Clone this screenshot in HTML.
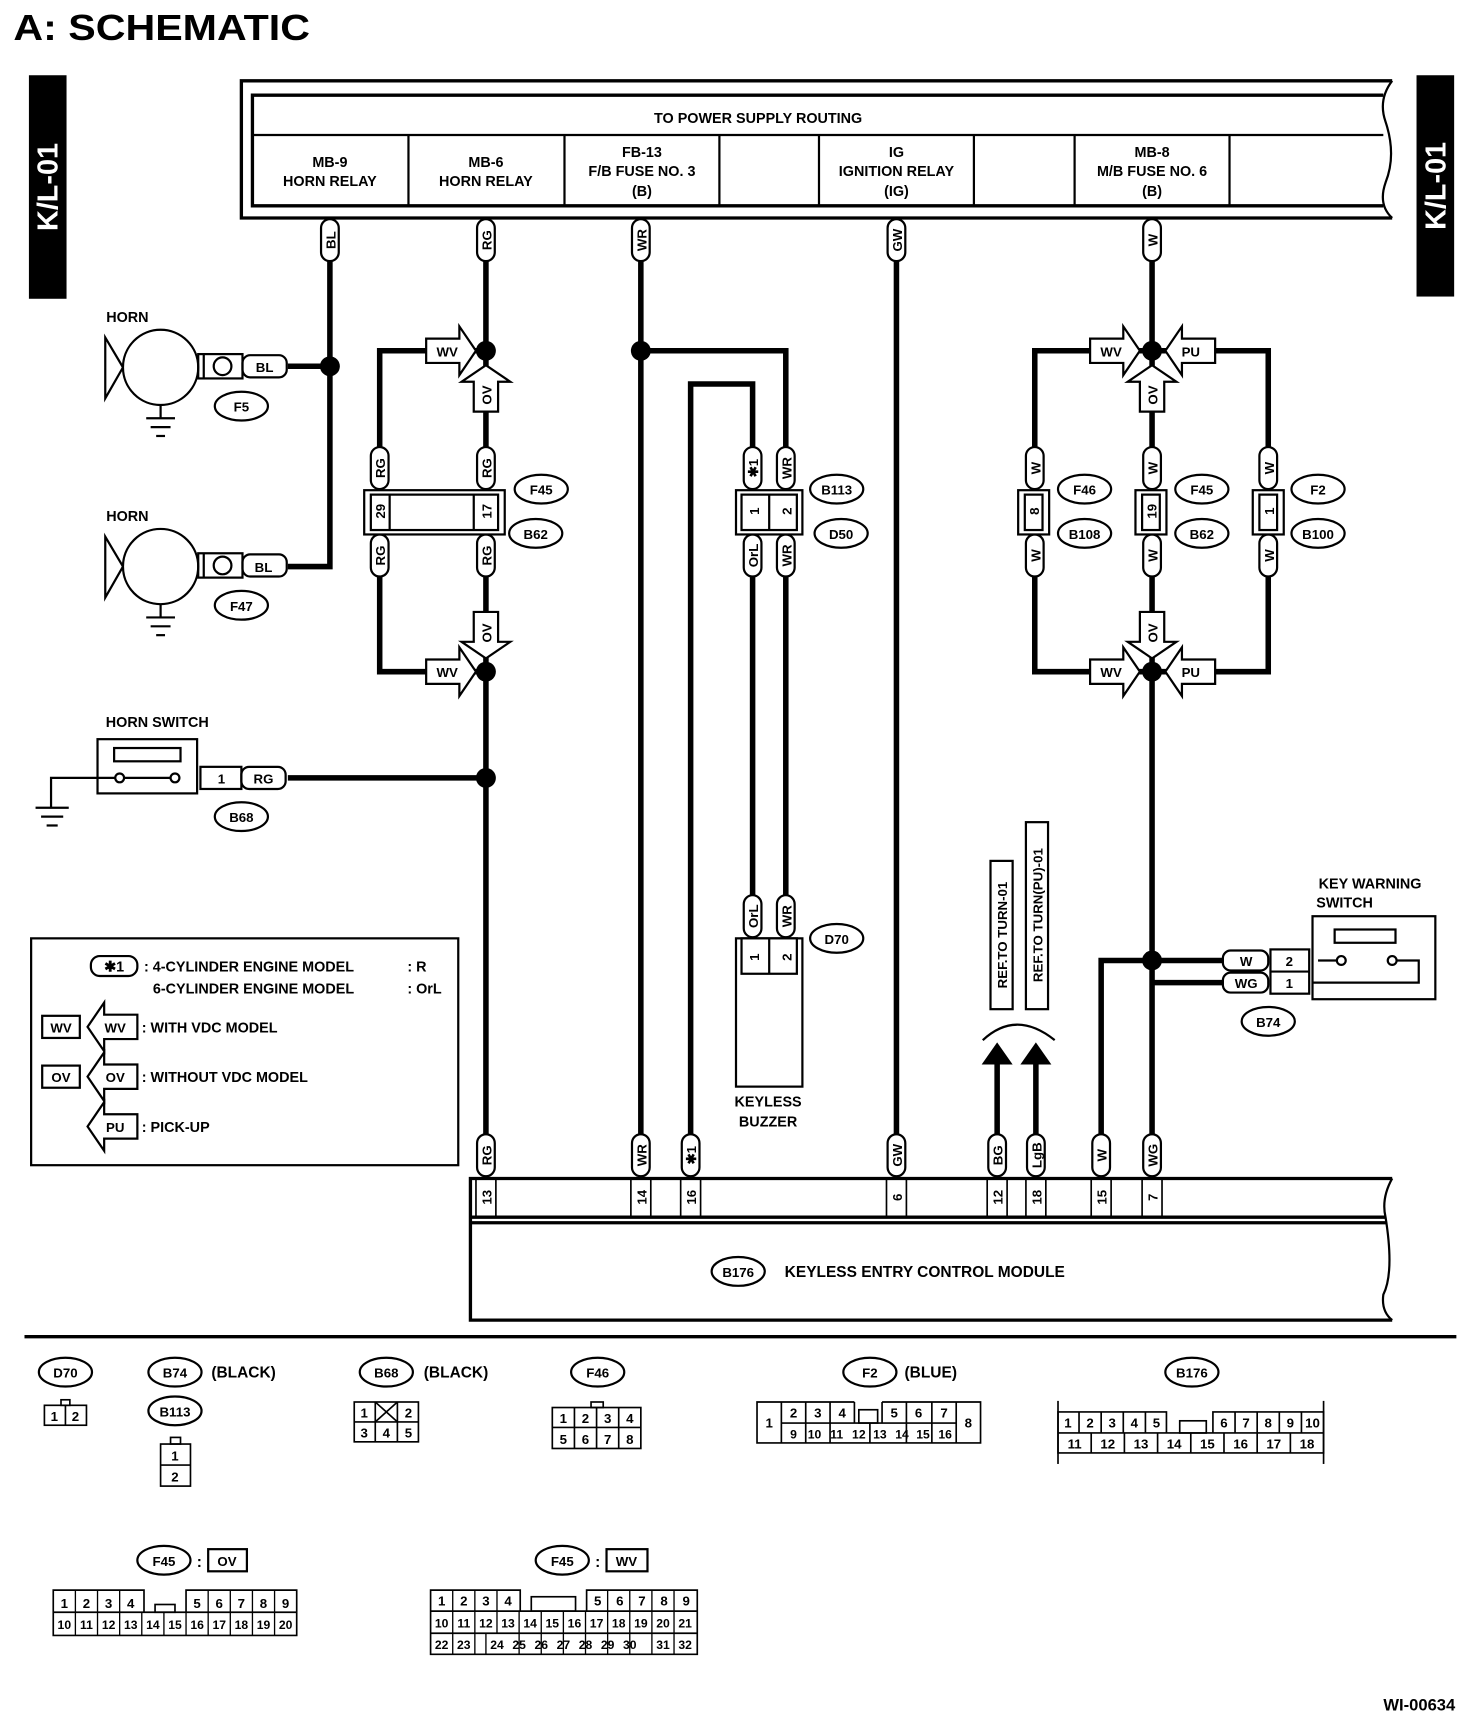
<!DOCTYPE html>
<html><head><meta charset="utf-8"><style>
html,body{margin:0;padding:0;background:#fff}
svg{display:block}
text{font-family:"Liberation Sans",sans-serif;font-weight:bold;fill:#000}
</style></head><body>
<svg width="1472" height="1724" viewBox="0 0 1330 1558" xmlns="http://www.w3.org/2000/svg">
<defs>
<g id="pill"><rect x="-8" y="-19" width="16" height="38" rx="8" fill="#fff" stroke="#000" stroke-width="2"/></g>
<g id="arR"><path d="M-45,-11 H-15 V-22 L0,0 L-15,22 V11 H-45 Z" fill="#fff" stroke="#000" stroke-width="2"/></g>
<g id="arL"><path d="M45,-11 H15 V-22 L0,0 L15,22 V11 H45 Z" fill="#fff" stroke="#000" stroke-width="2"/></g>
<g id="arU"><path d="M-11,42 V15 H-22 L0,0 L22,15 H11 V42 Z" fill="#fff" stroke="#000" stroke-width="2"/></g>
<g id="arD"><path d="M-11,-42 V-15 H-22 L0,0 L22,-15 H11 V-42 Z" fill="#fff" stroke="#000" stroke-width="2"/></g>
<g id="ov"><ellipse rx="24" ry="13" fill="#fff" stroke="#000" stroke-width="2"/></g>
</defs>

<text x="12" y="36" font-size="33" textLength="268" lengthAdjust="spacingAndGlyphs">A:  SCHEMATIC</text>

<rect x="26" y="68" width="34" height="202" fill="#000"/>
<text transform="translate(52,169) rotate(-90)" font-size="26" text-anchor="middle" style="fill:#fff">K/L-01</text>
<rect x="1280" y="68" width="34" height="200" fill="#000"/>
<text transform="translate(1306,168) rotate(-90)" font-size="26" text-anchor="middle" style="fill:#fff">K/L-01</text>

<!-- top box -->
<g fill="none" stroke="#000" stroke-width="3">
<path d="M1258,73 H218 V197 H1258"/>
<path d="M1250,86 H228 V186 H1250"/>
<path d="M1258,73 Q1245,90 1252,110 Q1262,140 1252,165 Q1245,185 1258,197" stroke-width="2"/>
</g>
<g stroke="#000" stroke-width="2">
<line x1="228" y1="122" x2="1250" y2="122"/>
<line x1="369" y1="122" x2="369" y2="186"/><line x1="510" y1="122" x2="510" y2="186"/>
<line x1="650" y1="122" x2="650" y2="186"/><line x1="740" y1="122" x2="740" y2="186"/>
<line x1="880" y1="122" x2="880" y2="186"/><line x1="971" y1="122" x2="971" y2="186"/>
<line x1="1111" y1="122" x2="1111" y2="186"/>
</g>
<g font-size="13" text-anchor="middle">
<text x="685" y="111">TO POWER SUPPLY ROUTING</text>
<text x="298" y="151">MB-9</text><text x="298" y="168">HORN RELAY</text>
<text x="439" y="151">MB-6</text><text x="439" y="168">HORN RELAY</text>
<text x="580" y="142">FB-13</text><text x="580" y="159">F/B FUSE NO. 3</text><text x="580" y="177">(B)</text>
<text x="810" y="142">IG</text><text x="810" y="159">IGNITION RELAY</text><text x="810" y="177">(IG)</text>
<text x="1041" y="142">MB-8</text><text x="1041" y="159">M/B FUSE NO. 6</text><text x="1041" y="177">(B)</text>
</g>

<!-- wires -->
<g fill="none" stroke="#000" stroke-width="5">
<path d="M298,236 V512 H260"/><path d="M298,331 H260"/>
<path d="M439,236 V1025"/>
<path d="M439,317 H343 V405"/><path d="M343,520 V607 H439"/>
<path d="M439,703 H260"/>
<path d="M579,236 V1025"/><path d="M579,317 H710 V405"/>
<path d="M624,1025 V347 H680 V405"/>
<path d="M680,520 V810"/><path d="M710,520 V810"/>
<path d="M810,236 V1025"/>
<path d="M1041,236 V1025"/>
<path d="M1041,317 H935 V405"/><path d="M935,520 V607 H1146 V520"/>
<path d="M1041,317 H1146 V405"/>
<path d="M1105,868 H995 V1025"/><path d="M1105,888 H1041"/>
<path d="M901,1025 V960"/><path d="M936,1025 V960"/>
</g>
<g fill="#000">
<circle cx="298" cy="331" r="9"/><circle cx="439" cy="317" r="9"/><circle cx="439" cy="607" r="9"/><circle cx="439" cy="703" r="9"/>
<circle cx="579" cy="317" r="9"/><circle cx="1041" cy="317" r="9"/><circle cx="1041" cy="607" r="9"/><circle cx="1041" cy="868" r="9"/>
<path d="M887,962 L901,942 L915,962 Z"/><path d="M922,962 L936,942 L950,962 Z"/>
</g>
<path d="M888,940 Q918,912 953,940" fill="none" stroke="#000" stroke-width="2"/>

<!-- arrows -->
<g font-size="12">
<use href="#arR" x="430" y="317"/><text x="404" y="322" text-anchor="middle">WV</text>
<use href="#arR" x="430" y="607"/><text x="404" y="612" text-anchor="middle">WV</text>
<use href="#arU" x="439" y="330"/><text transform="translate(444,357) rotate(-90)" text-anchor="middle">OV</text>
<use href="#arD" x="439" y="595"/><text transform="translate(444,572) rotate(-90)" text-anchor="middle">OV</text>
<use href="#arR" x="1030" y="317"/><text x="1004" y="322" text-anchor="middle">WV</text>
<use href="#arR" x="1030" y="607"/><text x="1004" y="612" text-anchor="middle">WV</text>
<use href="#arL" x="1053" y="317"/><text x="1076" y="322" text-anchor="middle">PU</text>
<use href="#arL" x="1053" y="607"/><text x="1076" y="612" text-anchor="middle">PU</text>
<use href="#arU" x="1041" y="330"/><text transform="translate(1046,357) rotate(-90)" text-anchor="middle">OV</text>
<use href="#arD" x="1041" y="595"/><text transform="translate(1046,572) rotate(-90)" text-anchor="middle">OV</text>
</g>

<!-- pills -->
<g font-size="12" text-anchor="middle">
<use href="#pill" x="298" y="217"/><text transform="translate(303,217) rotate(-90)">BL</text>
<use href="#pill" x="439" y="217"/><text transform="translate(444,217) rotate(-90)">RG</text>
<use href="#pill" x="579" y="217"/><text transform="translate(584,217) rotate(-90)">WR</text>
<use href="#pill" x="810" y="217"/><text transform="translate(815,217) rotate(-90)">GW</text>
<use href="#pill" x="1041" y="217"/><text transform="translate(1046,217) rotate(-90)">W</text>

<use href="#pill" x="343" y="423"/><text transform="translate(348,423) rotate(-90)">RG</text>
<use href="#pill" x="439" y="423"/><text transform="translate(444,423) rotate(-90)">RG</text>
<use href="#pill" x="343" y="502"/><text transform="translate(348,502) rotate(-90)">RG</text>
<use href="#pill" x="439" y="502"/><text transform="translate(444,502) rotate(-90)">RG</text>
<use href="#pill" x="680" y="423"/><text transform="translate(685,423) rotate(-90)">✱1</text>
<use href="#pill" x="710" y="423"/><text transform="translate(715,423) rotate(-90)">WR</text>
<use href="#pill" x="680" y="502"/><text transform="translate(685,502) rotate(-90)">OrL</text>
<use href="#pill" x="710" y="502"/><text transform="translate(715,502) rotate(-90)">WR</text>
<use href="#pill" x="680" y="828"/><text transform="translate(685,828) rotate(-90)">OrL</text>
<use href="#pill" x="710" y="828"/><text transform="translate(715,828) rotate(-90)">WR</text>
<use href="#pill" x="935" y="423"/><text transform="translate(940,423) rotate(-90)">W</text>
<use href="#pill" x="1041" y="423"/><text transform="translate(1046,423) rotate(-90)">W</text>
<use href="#pill" x="1146" y="423"/><text transform="translate(1151,423) rotate(-90)">W</text>
<use href="#pill" x="935" y="502"/><text transform="translate(940,502) rotate(-90)">W</text>
<use href="#pill" x="1041" y="502"/><text transform="translate(1046,502) rotate(-90)">W</text>
<use href="#pill" x="1146" y="502"/><text transform="translate(1151,502) rotate(-90)">W</text>

<use href="#pill" x="439" y="1044"/><text transform="translate(444,1044) rotate(-90)">RG</text>
<use href="#pill" x="579" y="1044"/><text transform="translate(584,1044) rotate(-90)">WR</text>
<use href="#pill" x="624" y="1044"/><text transform="translate(629,1044) rotate(-90)">✱1</text>
<use href="#pill" x="810" y="1044"/><text transform="translate(815,1044) rotate(-90)">GW</text>
<use href="#pill" x="901" y="1044"/><text transform="translate(906,1044) rotate(-90)">BG</text>
<use href="#pill" x="936" y="1044"/><text transform="translate(941,1044) rotate(-90)">LgB</text>
<use href="#pill" x="995" y="1044"/><text transform="translate(1000,1044) rotate(-90)">W</text>
<use href="#pill" x="1041" y="1044"/><text transform="translate(1046,1044) rotate(-90)">WG</text>
</g>

<!-- inline connectors -->
<g fill="#fff" stroke="#000" stroke-width="2">
<rect x="329" y="443" width="127" height="40"/><rect x="335" y="447" width="115" height="32"/>
<line x1="352" y1="447" x2="352" y2="479"/><line x1="428" y1="447" x2="428" y2="479"/>
<rect x="665" y="443" width="60" height="40"/><rect x="670" y="447" width="50" height="32"/><line x1="695" y1="447" x2="695" y2="479"/>
<rect x="920" y="443" width="28" height="40"/><rect x="926" y="447" width="16" height="32"/>
<rect x="1026" y="443" width="28" height="40"/><rect x="1032" y="447" width="16" height="32"/>
<rect x="1132" y="443" width="28" height="40"/><rect x="1138" y="447" width="16" height="32"/>
<rect x="665" y="848" width="60" height="134"/><rect x="670" y="848" width="50" height="32"/><line x1="695" y1="848" x2="695" y2="880"/>
</g>
<g font-size="12" text-anchor="middle">
<text transform="translate(348,462) rotate(-90)">29</text><text transform="translate(444,462) rotate(-90)">17</text>
<text transform="translate(686,462) rotate(-90)">1</text><text transform="translate(715,462) rotate(-90)">2</text>
<text transform="translate(939,462) rotate(-90)">8</text><text transform="translate(1045,462) rotate(-90)">19</text><text transform="translate(1151,462) rotate(-90)">1</text>
<text transform="translate(686,865) rotate(-90)">1</text><text transform="translate(715,865) rotate(-90)">2</text>
<text x="694" y="1000" font-size="13">KEYLESS</text><text x="694" y="1018" font-size="13">BUZZER</text>
</g>

<!-- ovals -->
<g font-size="12" text-anchor="middle">
<use href="#ov" x="489" y="442"/><text x="489" y="447">F45</text>
<use href="#ov" x="484" y="482"/><text x="484" y="487">B62</text>
<use href="#ov" x="756" y="442"/><text x="756" y="447">B113</text>
<use href="#ov" x="760" y="482"/><text x="760" y="487">D50</text>
<use href="#ov" x="756" y="848"/><text x="756" y="853">D70</text>
<use href="#ov" x="980" y="442"/><text x="980" y="447">F46</text>
<use href="#ov" x="980" y="482"/><text x="980" y="487">B108</text>
<use href="#ov" x="1086" y="442"/><text x="1086" y="447">F45</text>
<use href="#ov" x="1086" y="482"/><text x="1086" y="487">B62</text>
<use href="#ov" x="1191" y="442"/><text x="1191" y="447">F2</text>
<use href="#ov" x="1191" y="482"/><text x="1191" y="487">B100</text>
<use href="#ov" x="218" y="367"/><text x="218" y="372">F5</text>
<use href="#ov" x="218" y="547"/><text x="218" y="552">F47</text>
<use href="#ov" x="218" y="738"/><text x="218" y="743">B68</text>
<use href="#ov" x="1146" y="923"/><text x="1146" y="928">B74</text>
<use href="#ov" x="667" y="1149"/><text x="667" y="1154">B176</text>
</g>

<!-- horns -->
<g fill="none" stroke="#000" stroke-width="2">
<circle cx="145" cy="332" r="34"/><path d="M111,332 L95,305 V360 L111,332"/>
<line x1="145" y1="366" x2="145" y2="378"/><line x1="132" y1="378" x2="158" y2="378"/><line x1="136" y1="386" x2="154" y2="386"/><line x1="141" y1="394" x2="149" y2="394"/>
<rect x="179" y="320" width="40" height="22"/><circle cx="201" cy="331" r="8"/><line x1="184" y1="320" x2="184" y2="342"/>
<rect x="219" y="321" width="40" height="20" rx="7"/>
<circle cx="145" cy="512" r="34"/><path d="M111,512 L95,485 V540 L111,512"/>
<line x1="145" y1="546" x2="145" y2="558"/><line x1="132" y1="558" x2="158" y2="558"/><line x1="136" y1="566" x2="154" y2="566"/><line x1="141" y1="574" x2="149" y2="574"/>
<rect x="179" y="500" width="40" height="22"/><circle cx="201" cy="511" r="8"/><line x1="184" y1="500" x2="184" y2="522"/>
<rect x="219" y="501" width="40" height="20" rx="7"/>
<rect x="88" y="668" width="90" height="49"/><rect x="103" y="676" width="60" height="12"/>
<circle cx="108" cy="703" r="4"/><circle cx="158" cy="703" r="4"/><line x1="112" y1="703" x2="154" y2="703"/>
<path d="M104,703 H46 V730"/><line x1="32" y1="730" x2="62" y2="730"/><line x1="37" y1="738" x2="57" y2="738"/><line x1="42" y1="746" x2="52" y2="746"/>
<rect x="181" y="693" width="37" height="20"/><rect x="218" y="693" width="40" height="20" rx="7"/>
<rect x="1186" y="828" width="111" height="75"/><rect x="1206" y="840" width="55" height="12"/>
<circle cx="1212" cy="868" r="4"/><circle cx="1258" cy="868" r="4"/><line x1="1191" y1="868" x2="1208" y2="868"/>
<path d="M1262,868 H1282 V888 H1186"/>
<rect x="1148" y="858" width="35" height="40"/><line x1="1148" y1="878" x2="1183" y2="878"/>
<rect x="1105" y="859" width="41" height="18" rx="7" fill="#fff"/><rect x="1105" y="879" width="41" height="18" rx="7" fill="#fff"/>
<rect x="895" y="778" width="20" height="134"/><rect x="927" y="743" width="20" height="169"/>
</g>
<g font-size="13" text-anchor="middle">
<text x="115" y="291">HORN</text><text x="115" y="471">HORN</text><text x="142" y="657">HORN SWITCH</text>
<text x="239" y="336" font-size="12">BL</text><text x="238" y="517" font-size="12">BL</text>
<text x="200" y="708" font-size="12">1</text><text x="238" y="708" font-size="12">RG</text>
<text x="1238" y="803">KEY WARNING</text><text x="1215" y="820">SWITCH</text>
<text x="1126" y="873" font-size="12">W</text><text x="1126" y="893" font-size="12">WG</text>
<text x="1165" y="873" font-size="12">2</text><text x="1165" y="893" font-size="12">1</text>
<text transform="translate(910,845) rotate(-90)" font-size="12">REF.TO TURN-01</text>
<text transform="translate(942,827) rotate(-90)" font-size="12">REF.TO TURN(PU)-01</text>
</g>

<!-- legend -->
<rect x="28" y="848" width="386" height="205" fill="none" stroke="#000" stroke-width="2"/>
<g font-size="13">
<rect x="82" y="864" width="42" height="18" rx="8" fill="#fff" stroke="#000" stroke-width="2"/><text x="103" y="878" text-anchor="middle">✱1</text>
<text x="130" y="878">: 4-CYLINDER ENGINE MODEL</text><text x="368" y="878">: R</text>
<text x="138" y="898">6-CYLINDER ENGINE MODEL</text><text x="368" y="898">: OrL</text>
<rect x="38" y="918" width="34" height="20" fill="none" stroke="#000" stroke-width="2"/><text x="55" y="933" text-anchor="middle" font-size="12">WV</text>
<rect x="38" y="963" width="34" height="20" fill="none" stroke="#000" stroke-width="2"/><text x="55" y="978" text-anchor="middle" font-size="12">OV</text>
<use href="#arL" x="79" y="928"/><text x="104" y="933" text-anchor="middle" font-size="12">WV</text>
<use href="#arL" x="79" y="973"/><text x="104" y="978" text-anchor="middle" font-size="12">OV</text>
<use href="#arL" x="79" y="1018"/><text x="104" y="1023" text-anchor="middle" font-size="12">PU</text>
<text x="128" y="933">: WITH VDC MODEL</text>
<text x="128" y="978">: WITHOUT VDC MODEL</text>
<text x="128" y="1023">: PICK-UP</text>
</g>

<!-- module -->
<g fill="none" stroke="#000" stroke-width="3">
<path d="M1258,1065 H425 V1193 H1258"/>
<line x1="425" y1="1100" x2="1252" y2="1100"/><line x1="425" y1="1105" x2="1252" y2="1105"/>
<path d="M1258,1065 Q1248,1083 1252,1100 Q1260,1150 1250,1170 Q1248,1185 1258,1193" stroke-width="2"/>
</g>
<g stroke="#000" stroke-width="1.5">
<line x1="430" y1="1065" x2="430" y2="1100"/><line x1="448" y1="1065" x2="448" y2="1100"/>
<line x1="570" y1="1065" x2="570" y2="1100"/><line x1="588" y1="1065" x2="588" y2="1100"/>
<line x1="615" y1="1065" x2="615" y2="1100"/><line x1="633" y1="1065" x2="633" y2="1100"/>
<line x1="801" y1="1065" x2="801" y2="1100"/><line x1="819" y1="1065" x2="819" y2="1100"/>
<line x1="892" y1="1065" x2="892" y2="1100"/><line x1="910" y1="1065" x2="910" y2="1100"/>
<line x1="927" y1="1065" x2="927" y2="1100"/><line x1="945" y1="1065" x2="945" y2="1100"/>
<line x1="986" y1="1065" x2="986" y2="1100"/><line x1="1004" y1="1065" x2="1004" y2="1100"/>
<line x1="1032" y1="1065" x2="1032" y2="1100"/><line x1="1050" y1="1065" x2="1050" y2="1100"/>
</g>
<g font-size="12" text-anchor="middle">
<text transform="translate(444,1082) rotate(-90)">13</text><text transform="translate(584,1082) rotate(-90)">14</text>
<text transform="translate(629,1082) rotate(-90)">16</text><text transform="translate(815,1082) rotate(-90)">6</text>
<text transform="translate(906,1082) rotate(-90)">12</text><text transform="translate(941,1082) rotate(-90)">18</text>
<text transform="translate(1000,1082) rotate(-90)">15</text><text transform="translate(1046,1082) rotate(-90)">7</text>
</g>
<text x="709" y="1154" font-size="14">KEYLESS ENTRY CONTROL MODULE</text>

<line x1="22" y1="1208" x2="1316" y2="1208" stroke="#000" stroke-width="3"/>

<!-- bottom connectors -->
<g font-size="12" text-anchor="middle">
<use href="#ov" x="59" y="1240"/><text x="59" y="1245">D70</text>
<use href="#ov" x="158" y="1240"/><text x="158" y="1245">B74</text><text x="220" y="1245" font-size="14">(BLACK)</text>
<use href="#ov" x="158" y="1275"/><text x="158" y="1280">B113</text>
<use href="#ov" x="349" y="1240"/><text x="349" y="1245">B68</text><text x="412" y="1245" font-size="14">(BLACK)</text>
<use href="#ov" x="540" y="1240"/><text x="540" y="1245">F46</text>
<use href="#ov" x="786" y="1240"/><text x="786" y="1245">F2</text><text x="841" y="1245" font-size="14">(BLUE)</text>
<use href="#ov" x="1077" y="1240"/><text x="1077" y="1245">B176</text>
<use href="#ov" x="148" y="1410"/><text x="148" y="1415">F45</text><text x="180" y="1416" font-size="14">:</text>
<use href="#ov" x="508" y="1410"/><text x="508" y="1415">F45</text><text x="540" y="1416" font-size="14">:</text>
</g>
<g fill="none" stroke="#000" stroke-width="1.5">
<rect x="40" y="1270" width="38" height="18"/><line x1="59" y1="1270" x2="59" y2="1288"/><rect x="55" y="1265" width="8" height="5"/>
<rect x="145" y="1305" width="27" height="38"/><line x1="145" y1="1324" x2="172" y2="1324"/><rect x="154" y="1299" width="9" height="6"/>
<rect x="320" y="1267" width="58" height="36"/><line x1="320" y1="1285" x2="378" y2="1285"/><line x1="339" y1="1267" x2="339" y2="1303"/><line x1="359" y1="1267" x2="359" y2="1303"/>
<line x1="339" y1="1267" x2="359" y2="1285"/><line x1="359" y1="1267" x2="339" y2="1285"/>
<rect x="499" y="1272" width="80" height="37"/><line x1="499" y1="1290" x2="579" y2="1290"/>
<line x1="519" y1="1272" x2="519" y2="1309"/><line x1="539" y1="1272" x2="539" y2="1309"/><line x1="559" y1="1272" x2="559" y2="1309"/><rect x="534" y="1267" width="11" height="5"/>
<path d="M772,1267 H684 V1304 H886 V1267 H797"/><line x1="706" y1="1267" x2="706" y2="1304"/><line x1="864" y1="1267" x2="864" y2="1304"/>
<line x1="706" y1="1286" x2="864" y2="1286"/><line x1="772" y1="1267" x2="772" y2="1286"/><line x1="797" y1="1267" x2="797" y2="1286"/><rect x="776" y="1274" width="17" height="12"/>
<line x1="728" y1="1267" x2="728" y2="1304"/><line x1="750" y1="1267" x2="750" y2="1304"/><line x1="819" y1="1267" x2="819" y2="1304"/><line x1="842" y1="1267" x2="842" y2="1304"/>
<line x1="786" y1="1286" x2="786" y2="1304"/>
<path d="M1054,1295 V1276 H956 V1313 H1196 V1276 H1096 V1295"/><line x1="956" y1="1295" x2="1196" y2="1295"/><rect x="1066" y="1284" width="24" height="11"/>
<line x1="975" y1="1276" x2="975" y2="1295"/><line x1="995" y1="1276" x2="995" y2="1295"/><line x1="1015" y1="1276" x2="1015" y2="1295"/><line x1="1035" y1="1276" x2="1035" y2="1295"/>
<line x1="1116" y1="1276" x2="1116" y2="1295"/><line x1="1136" y1="1276" x2="1136" y2="1295"/><line x1="1156" y1="1276" x2="1156" y2="1295"/><line x1="1176" y1="1276" x2="1176" y2="1295"/>
<line x1="986" y1="1295" x2="986" y2="1313"/><line x1="1016" y1="1295" x2="1016" y2="1313"/><line x1="1046" y1="1295" x2="1046" y2="1313"/><line x1="1076" y1="1295" x2="1076" y2="1313"/><line x1="1106" y1="1295" x2="1106" y2="1313"/><line x1="1136" y1="1295" x2="1136" y2="1313"/><line x1="1166" y1="1295" x2="1166" y2="1313"/>
<line x1="956" y1="1266" x2="956" y2="1323"/><line x1="1196" y1="1266" x2="1196" y2="1323"/>
<rect x="188" y="1400" width="35" height="20" stroke-width="2"/><rect x="548" y="1400" width="37" height="20" stroke-width="2"/>
<path d="M130,1457 V1437 H48 V1478 H268 V1437 H168 V1457"/><line x1="48" y1="1457" x2="268" y2="1457"/><rect x="140" y="1450" width="18" height="7"/>
<path d="M470,1456 V1437 H389 V1495 H630 V1437 H530 V1456"/><line x1="389" y1="1456" x2="630" y2="1456"/><line x1="389" y1="1476" x2="630" y2="1476"/><rect x="480" y="1443" width="40" height="13"/>
</g>
<g font-size="12" text-anchor="middle">
<text x="49" y="1284">1</text><text x="68" y="1284">2</text>
<text x="158" y="1320">1</text><text x="158" y="1339">2</text>
<text x="329" y="1281">1</text><text x="369" y="1281">2</text><text x="329" y="1299">3</text><text x="349" y="1299">4</text><text x="369" y="1299">5</text>
<text x="509" y="1286">1</text><text x="529" y="1286">2</text><text x="549" y="1286">3</text><text x="569" y="1286">4</text>
<text x="509" y="1305">5</text><text x="529" y="1305">6</text><text x="549" y="1305">7</text><text x="569" y="1305">8</text>
<text x="695" y="1290">1</text><text x="717" y="1281">2</text><text x="739" y="1281">3</text><text x="761" y="1281">4</text>
<text x="808" y="1281">5</text><text x="830" y="1281">6</text><text x="853" y="1281">7</text><text x="875" y="1290">8</text>
<g font-size="11"><text x="717" y="1300">9</text><text x="736" y="1300">10</text><text x="756" y="1300">11</text><text x="776" y="1300">12</text><text x="795" y="1300">13</text><text x="815" y="1300">14</text><text x="834" y="1300">15</text><text x="854" y="1300">16</text></g>
<text x="965" y="1290">1</text><text x="985" y="1290">2</text><text x="1005" y="1290">3</text><text x="1025" y="1290">4</text><text x="1045" y="1290">5</text>
<text x="1106" y="1290">6</text><text x="1126" y="1290">7</text><text x="1146" y="1290">8</text><text x="1166" y="1290">9</text><text x="1186" y="1290">10</text>
<text x="971" y="1309">11</text><text x="1001" y="1309">12</text><text x="1031" y="1309">13</text><text x="1061" y="1309">14</text><text x="1091" y="1309">15</text><text x="1121" y="1309">16</text><text x="1151" y="1309">17</text><text x="1181" y="1309">18</text>
<text x="205" y="1415">OV</text><text x="566" y="1415">WV</text>
<text x="58" y="1453">1</text><text x="78" y="1453">2</text><text x="98" y="1453">3</text><text x="118" y="1453">4</text>
<text x="178" y="1453">5</text><text x="198" y="1453">6</text><text x="218" y="1453">7</text><text x="238" y="1453">8</text><text x="258" y="1453">9</text>
<g font-size="11"><text x="58" y="1472">10</text><text x="78" y="1472">11</text><text x="98" y="1472">12</text><text x="118" y="1472">13</text><text x="138" y="1472">14</text><text x="158" y="1472">15</text><text x="178" y="1472">16</text><text x="198" y="1472">17</text><text x="218" y="1472">18</text><text x="238" y="1472">19</text><text x="258" y="1472">20</text></g>
<text x="399" y="1451">1</text><text x="419" y="1451">2</text><text x="439" y="1451">3</text><text x="459" y="1451">4</text>
<text x="540" y="1451">5</text><text x="560" y="1451">6</text><text x="580" y="1451">7</text><text x="600" y="1451">8</text><text x="620" y="1451">9</text>
<g font-size="11"><text x="399" y="1471">10</text><text x="419" y="1471">11</text><text x="439" y="1471">12</text><text x="459" y="1471">13</text><text x="479" y="1471">14</text><text x="499" y="1471">15</text><text x="519" y="1471">16</text><text x="539" y="1471">17</text><text x="559" y="1471">18</text><text x="579" y="1471">19</text><text x="599" y="1471">20</text><text x="619" y="1471">21</text>
<text x="399" y="1490">22</text><text x="419" y="1490">23</text><text x="449" y="1490">24</text><text x="469" y="1490">25</text><text x="489" y="1490">26</text><text x="509" y="1490">27</text><text x="529" y="1490">28</text><text x="549" y="1490">29</text><text x="569" y="1490">30</text><text x="599" y="1490">31</text><text x="619" y="1490">32</text></g>
</g>
<g stroke="#000" stroke-width="1.2">
<line x1="409" y1="1456" x2="409" y2="1495"/><line x1="429" y1="1437" x2="429" y2="1495"/><line x1="449" y1="1437" x2="449" y2="1476"/><line x1="439" y1="1476" x2="439" y2="1495"/>
<line x1="469" y1="1456" x2="469" y2="1495"/><line x1="489" y1="1456" x2="489" y2="1495"/><line x1="509" y1="1456" x2="509" y2="1495"/><line x1="529" y1="1456" x2="529" y2="1495"/>
<line x1="549" y1="1437" x2="549" y2="1495"/><line x1="569" y1="1437" x2="569" y2="1495"/><line x1="589" y1="1437" x2="589" y2="1495"/><line x1="609" y1="1437" x2="609" y2="1495"/>
<line x1="409" y1="1437" x2="409" y2="1456"/>
<line x1="68" y1="1437" x2="68" y2="1478"/><line x1="88" y1="1437" x2="88" y2="1478"/><line x1="108" y1="1437" x2="108" y2="1478"/><line x1="128" y1="1457" x2="128" y2="1478"/><line x1="148" y1="1457" x2="148" y2="1478"/>
<line x1="168" y1="1457" x2="168" y2="1478"/><line x1="188" y1="1437" x2="188" y2="1478"/><line x1="208" y1="1437" x2="208" y2="1478"/><line x1="228" y1="1437" x2="228" y2="1478"/><line x1="248" y1="1437" x2="248" y2="1478"/>
</g>

<text x="1315" y="1546" font-size="15" text-anchor="end" font-weight="normal">WI-00634</text>
</svg>
</body></html>
